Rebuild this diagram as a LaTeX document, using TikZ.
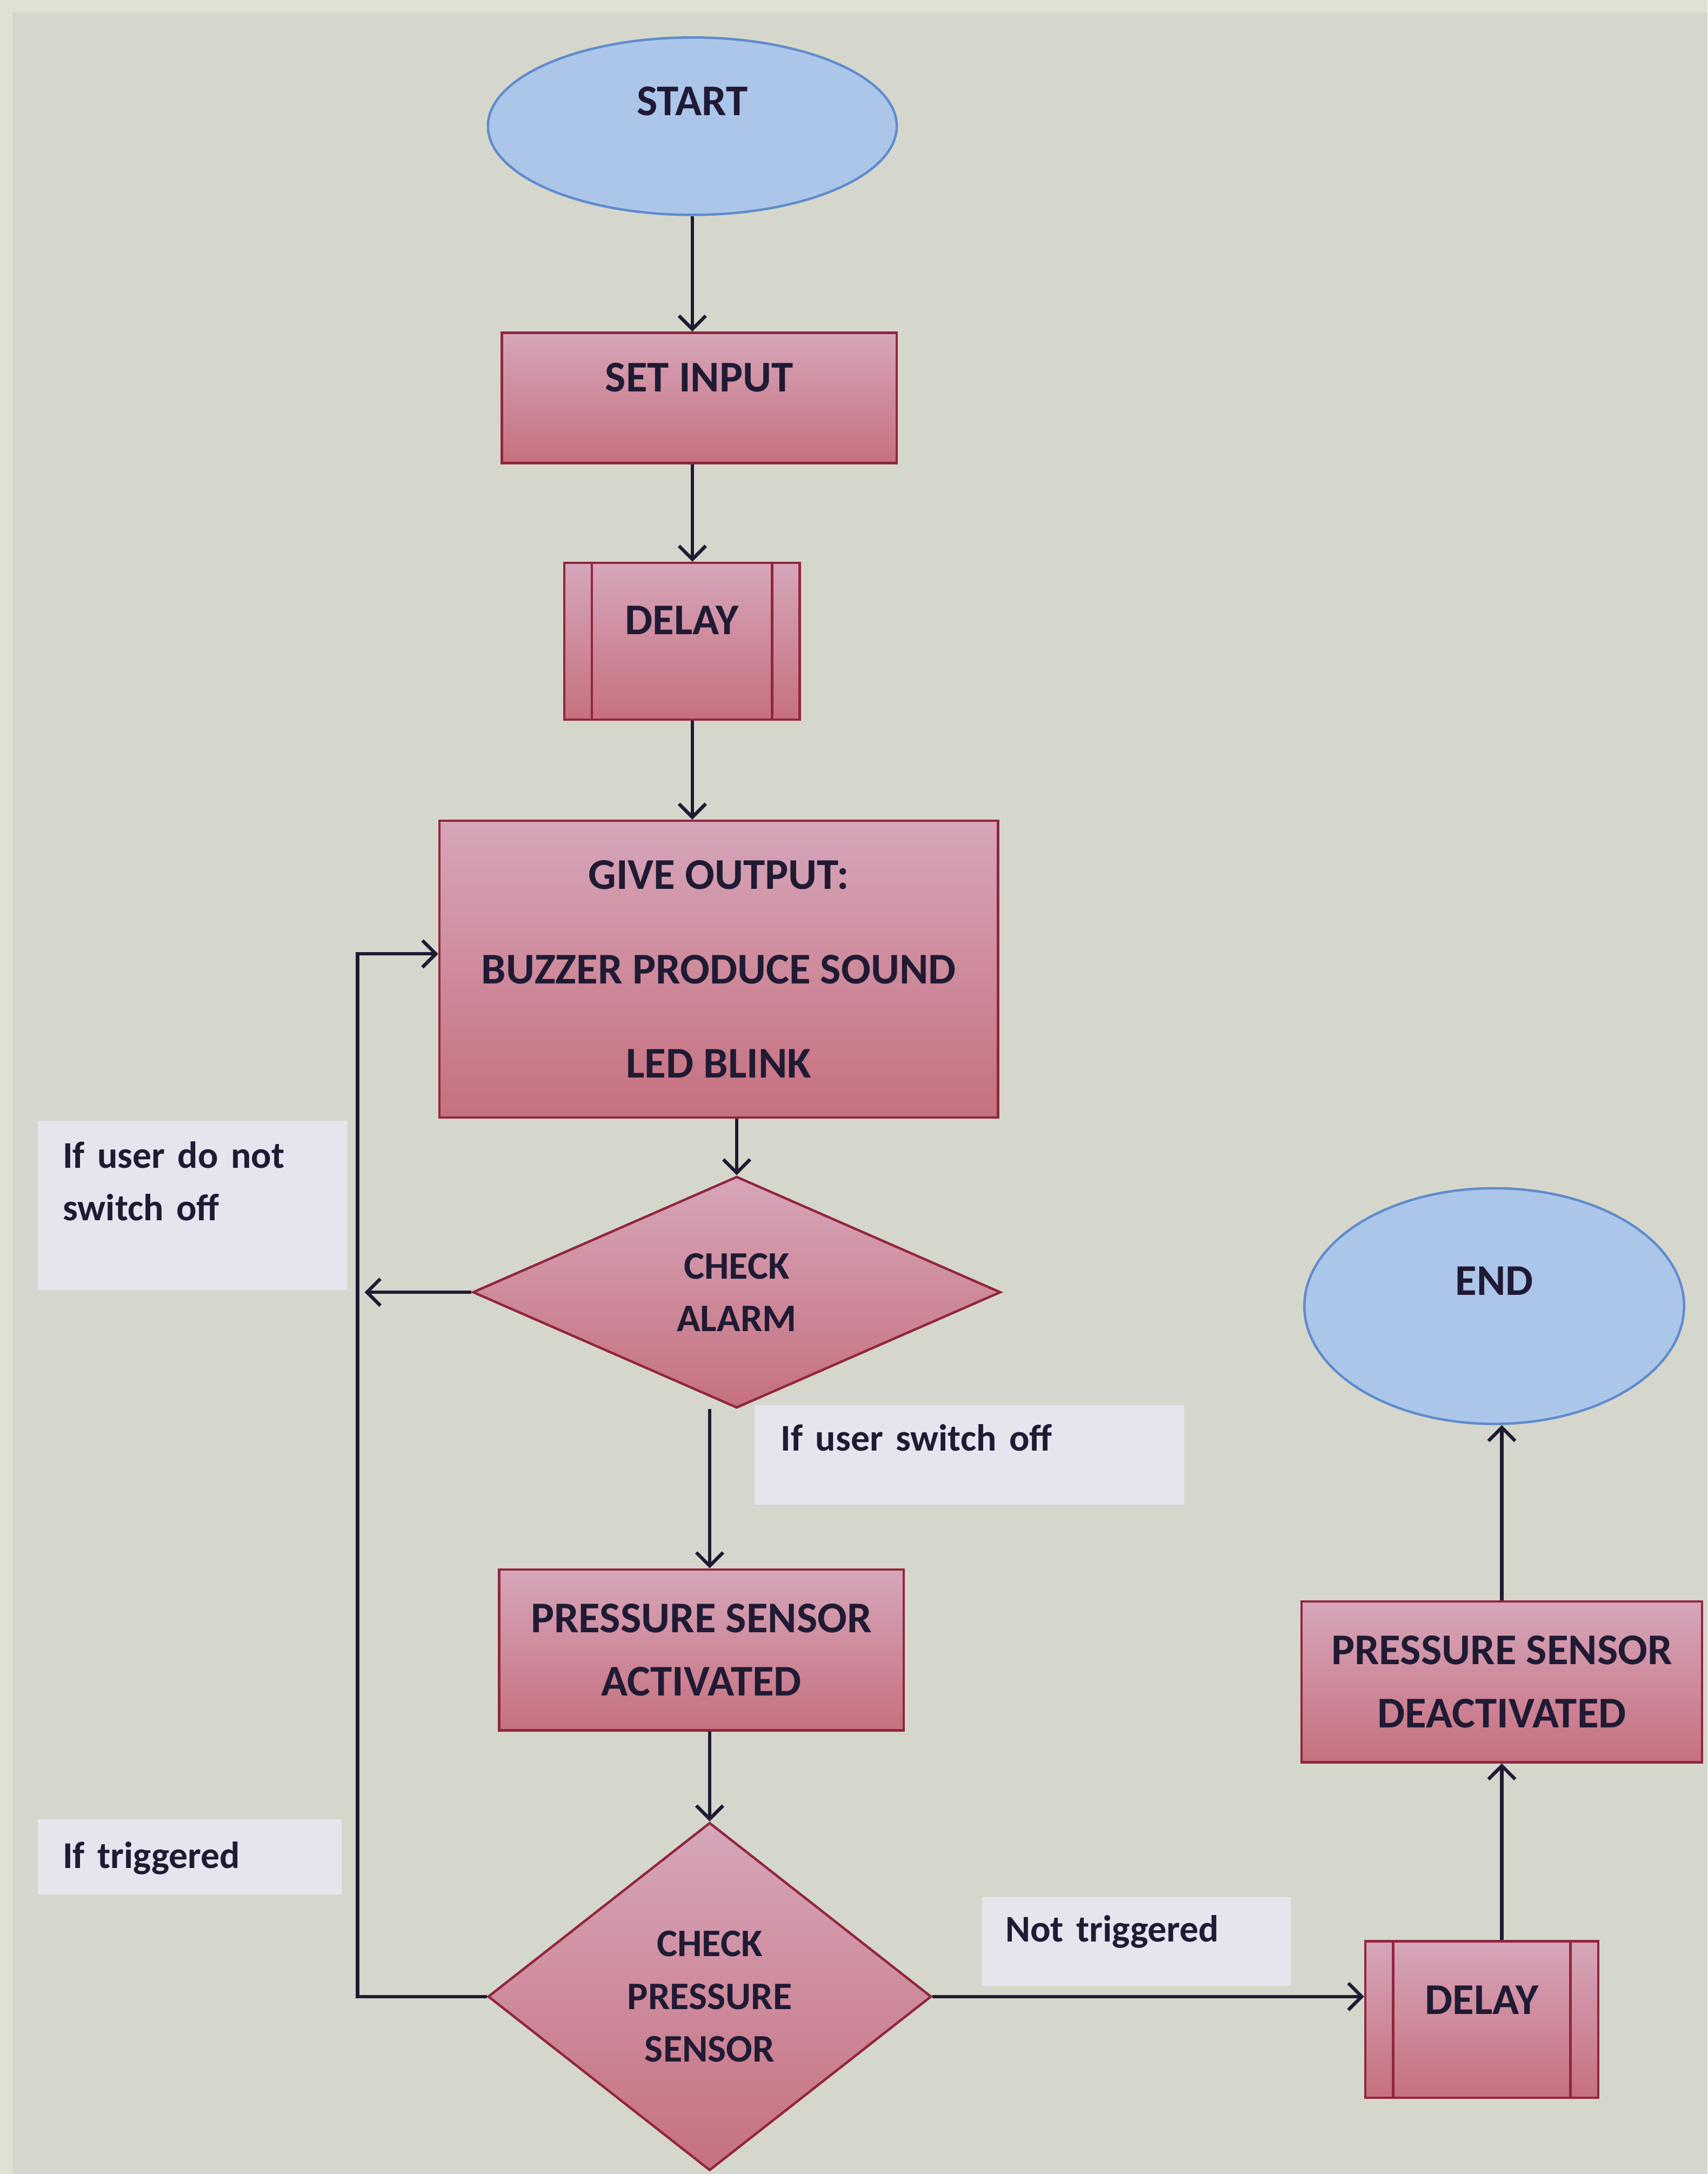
\documentclass[tikz,border=0pt]{standalone}
\usepackage{fontspec}
\setmainfont{Carlito}
\usetikzlibrary{arrows.meta,shapes.geometric,backgrounds,calc}

\definecolor{bgcol}{RGB}{214,215,204}
\definecolor{stripcol}{RGB}{223,226,210}
\definecolor{boxtop}{RGB}{214,166,186}
\definecolor{boxbot}{RGB}{198,112,126}
\definecolor{boxedge}{RGB}{145,38,62}
\definecolor{ovalfill}{RGB}{172,198,234}
\definecolor{ovaledge}{RGB}{95,140,205}
\definecolor{notefill}{RGB}{229,229,238}
\definecolor{inkcol}{RGB}{32,26,52}

\tikzset{
  flowline/.style={draw=inkcol, line width=1.4pt},
  flowarrow/.style={flowline, -{Straight Barb[length=5.5pt,width=11pt]}},
  termnode/.style={ellipse, draw=ovaledge, line width=1pt, fill=ovalfill, text=inkcol,
    font=\fontsize{18}{22}\selectfont\bfseries, text depth=0.72cm},
  procbox/.style={rectangle, draw=boxedge, line width=1pt, top color=boxtop, bottom color=boxbot,
    text=inkcol, font=\fontsize{18}{26}\selectfont\bfseries, align=center, inner sep=0pt},
  delaybox/.style={procbox, path picture={
    \draw[boxedge, line width=1pt]
      ([xshift=0.4cm]path picture bounding box.north west) -- ([xshift=0.4cm]path picture bounding box.south west)
      ([xshift=-0.4cm]path picture bounding box.north east) -- ([xshift=-0.4cm]path picture bounding box.south east);}},
  checknode/.style={diamond, draw=boxedge, line width=1pt, top color=boxtop, bottom color=boxbot,
    text=inkcol, font=\fontsize{16}{21.6}\selectfont\bfseries, align=center, inner sep=0pt},
  notebox/.style={anchor=north west, fill=notefill, text=inkcol, font=\fontsize{15.5}{21.6}\selectfont\bfseries,
    align=left, inner xsep=0.36cm, inner ysep=0pt}
}

\begin{document}
\begin{tikzpicture}[x=0.02cm,y=-0.02cm]
  %%%%% START %%%%%

  \node[termnode, minimum width=5.9cm, minimum height=2.56cm] (start) at (499.5,91) {START};
  \node[procbox, minimum width=5.7cm, minimum height=1.88cm, text depth=0.6cm] (setin) at (504.5,287) {SET INPUT};
  \node[delaybox, minimum width=3.4cm, minimum height=2.26cm, text depth=0.6cm] (delayA) at (492,462.5) {DELAY};
  \node[procbox, minimum width=8.06cm, minimum height=4.28cm, font=\fontsize{18}{38.7}\selectfont\bfseries] (output) at (518.5,699)
    {GIVE OUTPUT:\\BUZZER PRODUCE SOUND\\LED BLINK};
  \node[checknode, minimum width=7.62cm, minimum height=3.34cm] (alarm) at (531.5,932) {CHECK\\ALARM};
  \node[procbox, minimum width=5.84cm, minimum height=2.32cm] (actv) at (506,1190) {PRESSURE SENSOR\\ACTIVATED};
  \node[checknode, minimum width=6.4cm, minimum height=5.02cm] (press) at (512,1440) {CHECK\\PRESSURE\\SENSOR};
  \node[delaybox, minimum width=3.36cm, minimum height=2.26cm, text depth=0.56cm] (delayB) at (1069,1456.5) {DELAY};
  \node[procbox, minimum width=5.78cm, minimum height=2.32cm] (deact) at (1083.5,1213) {PRESSURE SENSOR\\DEACTIVATED};
  \node[termnode, minimum width=5.48cm, minimum height=3.4cm] (stop) at (1078,942) {END};

  % side notes
  \node[notebox, text width=3.74cm, text height=0.68cm, text depth=1.76cm] (offno) at (27,808) {If user do not\\switch off};
  \node[notebox, inner xsep=0.38cm, text width=5.44cm, text height=0.66cm, text depth=0.78cm] (offyes) at (544,1013) {If user switch off};
  \node[notebox, text width=3.66cm, text height=0.7cm, text depth=0.38cm] (trigyes) at (27,1312) {If triggered};
  \node[notebox, inner xsep=0.34cm, text width=3.78cm, text height=0.64cm, text depth=0.64cm] (trigno) at (708,1368) {Not triggered};

  \coordinate (back) at (258,1440);
  \coordinate (loopin) at ($(output.west)+(0,-11)$);

  \begin{scope}[on background layer]
    \fill[bgcol] (0,0) rectangle (1232,1568);
    \fill[stripcol] (0,0) rectangle (1232,9);
    \fill[stripcol] (0,0) rectangle (9,1568);

    \draw[flowarrow] (start.south) -- (start.south |- setin.north);
    \draw[flowarrow] (start |- setin.south) -- (start |- delayA.north);
    \draw[flowarrow] (start |- delayA.south) -- (start |- output.north);
    \draw[flowarrow] (alarm |- output.south) -- (alarm.north);
    \draw[flowarrow] (alarm.west) -- ($(back |- alarm.west)+(5,0)$);
    \draw[flowarrow] (press.west) -- (back) -- (back |- loopin) -- (loopin);
    \draw[flowarrow] (press |- alarm.south) -- (press |- actv.north);
    \draw[flowarrow] (press |- actv.south) -- (press.north);
    \draw[flowarrow] (press.east) -- (press.east -| delayB.west);
    \draw[flowarrow] (deact |- delayB.north) -- (deact.south);
    \draw[flowarrow] (deact.north) -- (deact.north |- stop.south);
  \end{scope}

  %%%%% END %%%%%
\end{tikzpicture}
\end{document}
